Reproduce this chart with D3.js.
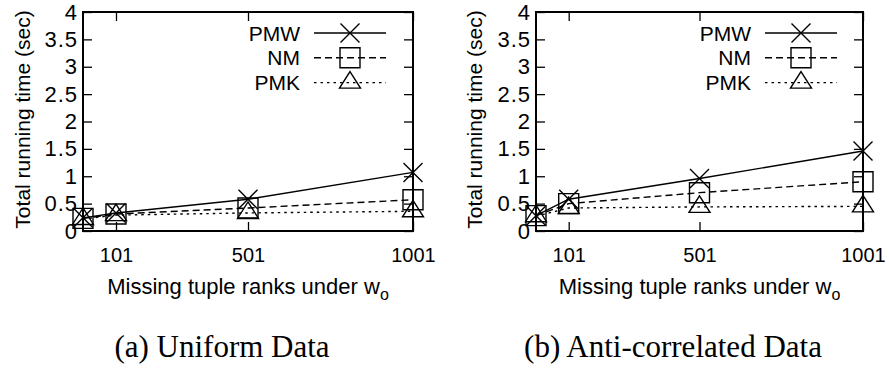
<!DOCTYPE html>
<html>
<head>
<meta charset="utf-8">
<script src="https://cdn.jsdelivr.net/npm/d3@7"></script>
<style>
  html, body { margin: 0; padding: 0; background: #fff; }
  svg { display: block; }
</style>
</head>
<body>
<svg id="chart" width="889" height="373"></svg>
<script>
// Missing tuple ranks (x positions of the measurements)
const ranks = [1, 101, 501, 1001];
const xTickValues = [101, 501, 1001];
const yTickValues = [0, 0.5, 1, 1.5, 2, 2.5, 3, 3.5, 4];
const seriesNames = ["PMW", "NM", "PMK"];

// Total running time (sec), uniform data
const uniformPMW = [0.24, 0.33, 0.58, 1.07];
const uniformNM  = [0.23, 0.31, 0.42, 0.57];
const uniformPMK = [0.22, 0.29, 0.33, 0.36];

// Total running time (sec), anti-correlated data
const antiPMW = [0.28, 0.58, 0.96, 1.46];
const antiNM  = [0.28, 0.50, 0.70, 0.90];
const antiPMK = [0.27, 0.42, 0.44, 0.45];

const panelTitles = ["(a) Uniform Data", "(b) Anti-correlated Data"];

const svg = d3.select("#chart");
const sans = "'Liberation Sans', Arial, Helvetica, sans-serif";
const serif = "'Liberation Serif', 'Times New Roman', serif";

const styles = {
  PMW: { dash: null,  marker: "x" },
  NM:  { dash: "7,4", marker: "square" },
  PMK: { dash: "2.5,4", marker: "triangle" }
};

function markerPath(type) {
  if (type === "x") return "M-9.5,-9.5L9.5,9.5M-9.5,9.5L9.5,-9.5";
  if (type === "square") return "M-10,-10H10V10H-10Z";
  return "M0,-11L10.5,5.5H-10.5Z";
}

function drawPanel(cfg) {
  const g = svg.append("g");
  const x = d3.scaleLinear().domain([1, 1001]).range([cfg.left, cfg.right]);
  const y = d3.scaleLinear().domain([0, 4]).range([cfg.bottom, cfg.top]);
  const tickLen = 9;

  // axes with inward ticks on all four sides
  const bottomAxis = d3.axisBottom(x).tickValues(xTickValues).tickSizeInner(-tickLen).tickSizeOuter(0)
    .tickPadding(17).tickFormat(d3.format("d"));
  const topAxis = d3.axisTop(x).tickValues(xTickValues).tickSizeInner(-tickLen).tickSizeOuter(0).tickFormat("");
  const leftAxis = d3.axisLeft(y).tickValues(yTickValues).tickSizeInner(-tickLen).tickSizeOuter(0).tickPadding(5)
    .tickFormat(d3.format("~g"));
  const rightAxis = d3.axisRight(y).tickValues(yTickValues).tickSizeInner(-tickLen).tickSizeOuter(0).tickFormat("");

  const axes = [
    g.append("g").attr("transform", `translate(0,${cfg.bottom})`).call(bottomAxis),
    g.append("g").attr("transform", `translate(0,${cfg.top})`).call(topAxis),
    g.append("g").attr("transform", `translate(${cfg.left},0)`).call(leftAxis),
    g.append("g").attr("transform", `translate(${cfg.right},0)`).call(rightAxis)
  ];
  axes.forEach(a => {
    a.select(".domain").remove();
    a.selectAll(".tick line").attr("stroke", "#000").attr("stroke-width", 1.3);
    a.selectAll(".tick text").attr("fill", "#000").attr("font-family", sans).attr("font-size", 21);
  });
  axes[0].selectAll(".tick text").attr("font-size", 20);
  axes[2].selectAll(".tick text").attr("font-size", 22).attr("letter-spacing", 1);

  // frame
  g.append("rect")
    .attr("x", cfg.left).attr("y", cfg.top)
    .attr("width", cfg.right - cfg.left).attr("height", cfg.bottom - cfg.top)
    .attr("fill", "none").attr("stroke", "#000").attr("stroke-width", 2);

  // axis titles
  g.append("text")
    .attr("transform", `translate(${cfg.ylabelX},${(cfg.top + cfg.bottom) / 2 - 2}) rotate(-90)`)
    .attr("text-anchor", "middle").attr("dominant-baseline", "central")
    .attr("font-family", sans).attr("font-size", 21)
    .text("Total running time (sec)");

  const xl = g.append("text")
    .attr("x", (cfg.left + cfg.right) / 2).attr("y", 294)
    .attr("text-anchor", "middle")
    .attr("font-family", sans).attr("font-size", 22);
  xl.append("tspan").text("Missing tuple ranks under w");
  xl.append("tspan").attr("dy", 6).attr("font-size", 16).text("o");

  // panel caption
  g.append("text")
    .attr("x", cfg.captionX).attr("y", 357)
    .attr("text-anchor", "middle")
    .attr("font-family", serif).attr("font-size", 31)
    .text(cfg.title);

  // series
  const line = d3.line().x((d, i) => x(ranks[i])).y(d => y(d));
  cfg.series.forEach((vals, si) => {
    const st = styles[seriesNames[si]];
    g.append("path")
      .attr("d", line(vals))
      .attr("fill", "none").attr("stroke", "#000").attr("stroke-width", 1.4)
      .attr("stroke-dasharray", st.dash);
    g.selectAll(null).data(vals).enter().append("path")
      .attr("transform", (d, i) => `translate(${x(ranks[i])},${y(d)})`)
      .attr("d", markerPath(st.marker))
      .attr("fill", "none").attr("stroke", "#000").attr("stroke-width", 1.4);
  });

  // legend
  seriesNames.forEach((name, i) => {
    const ly = cfg.legendTop + i * 24.8;
    const st = styles[name];
    g.append("text")
      .attr("x", cfg.legendTextX).attr("y", ly).attr("dy", "0.36em")
      .attr("text-anchor", "end")
      .attr("font-family", sans).attr("font-size", 21)
      .text(name);
    g.append("line")
      .attr("x1", cfg.legendTextX + 14).attr("x2", cfg.legendTextX + 86)
      .attr("y1", ly).attr("y2", ly)
      .attr("stroke", "#000").attr("stroke-width", 1.4)
      .attr("stroke-dasharray", st.dash);
    g.append("path")
      .attr("transform", `translate(${cfg.legendTextX + 50},${ly})`)
      .attr("d", markerPath(st.marker))
      .attr("fill", "none").attr("stroke", "#000").attr("stroke-width", 1.4);
  });
}

drawPanel({
  left: 83, right: 413, top: 12, bottom: 231,
  ylabelX: 22, captionX: 222, title: panelTitles[0],
  legendTextX: 300, legendTop: 33,
  series: [uniformPMW, uniformNM, uniformPMK]
});

drawPanel({
  left: 536, right: 863, top: 12, bottom: 231,
  ylabelX: 474, captionX: 673, title: panelTitles[1],
  legendTextX: 751, legendTop: 33,
  series: [antiPMW, antiNM, antiPMK]
});
</script>
</body>
</html>
